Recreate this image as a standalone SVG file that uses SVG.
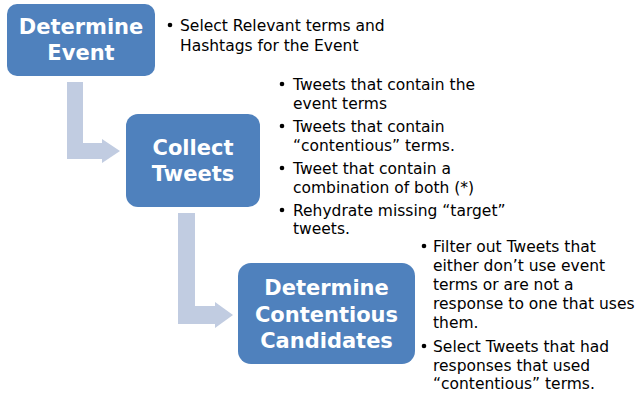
<svg xmlns="http://www.w3.org/2000/svg" width="637" height="396" viewBox="0 0 637 396">
<style>
.box{fill:#4F81BD}
.arrow{fill:#C1CCE1}
.title{font-family:"DejaVu Sans",Verdana,sans-serif;font-weight:bold;font-size:21px;fill:#FFFFFF;text-anchor:middle}
.bul{font-family:"DejaVu Sans",Verdana,sans-serif;font-size:15.5px;fill:#000000}
</style>
<rect width="637" height="396" fill="#FFFFFF"/>
<g id="connectors">
<path class="arrow" d="M67,82 H83 V143 H102 V139 L120,151 L102,163 V159 H67 Z"/>
<path class="arrow" d="M178,213 H195 V306 H215 V302 L233,315 L215,328 V324 H178 Z"/>
</g>
<g id="node-determine-event">
<rect class="box" x="7" y="4" width="148" height="72" rx="10"/>
<text class="title" x="81" y="34">Determine</text>
<text class="title" x="81" y="60">Event</text>
<g class="bul">
<circle cx="170" cy="25" r="2.3"/>
<text x="180" y="31">Select Relevant terms and</text>
<text x="180" y="50.5">Hashtags for the Event</text>
</g>
</g>
<g id="node-collect-tweets">
<rect class="box" x="126" y="114" width="134" height="93" rx="12"/>
<text class="title" x="193" y="155">Collect</text>
<text class="title" x="193" y="181">Tweets</text>
<g class="bul">
<circle cx="282" cy="84" r="2.3"/>
<text x="293" y="90">Tweets that contain the</text>
<text x="293" y="108.5">event terms</text>
<circle cx="282" cy="126" r="2.3"/>
<text x="293" y="131.7">Tweets that contain</text>
<text x="293" y="150.7">“contentious” terms.</text>
<circle cx="282" cy="168" r="2.3"/>
<text x="293" y="174.3">Tweet that contain a</text>
<text x="293" y="193.3">combination of both (*)</text>
<circle cx="282" cy="210" r="2.3"/>
<text x="293" y="216">Rehydrate missing “target”</text>
<text x="293" y="234">tweets.</text>
</g>
</g>
<g id="node-determine-contentious">
<rect class="box" x="238" y="263" width="177" height="101" rx="13"/>
<text class="title" x="326.5" y="295">Determine</text>
<text class="title" x="326.5" y="321.7">Contentious</text>
<text class="title" x="326.5" y="347.7">Candidates</text>
<g class="bul">
<circle cx="424" cy="246" r="2.3"/>
<text x="433" y="251.7">Filter out Tweets that</text>
<text x="433" y="271">either don’t use event</text>
<text x="433" y="290">terms or are not a</text>
<text x="433" y="309.3">response to one that uses</text>
<text x="433" y="328.3">them.</text>
<circle cx="424" cy="346" r="2.3"/>
<text x="433" y="351.7">Select Tweets that had</text>
<text x="433" y="371">responses that used</text>
<text x="433" y="389.3">“contentious” terms.</text>
</g>
</g>
</svg>
